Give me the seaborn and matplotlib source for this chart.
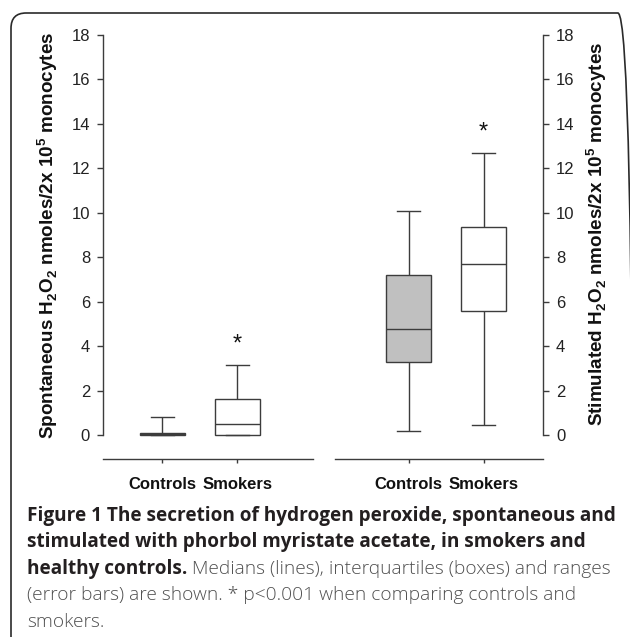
import numpy as np
import pandas as pd
import matplotlib
matplotlib.use("Agg")
import matplotlib.pyplot as plt
import seaborn as sns
from matplotlib.patches import FancyBboxPatch

# ---------------- data (five-number summaries) -------------
groups = ["Controls", "Smokers"]
# min, q1, median, q3, max
spont_controls = [0.0, 0.0, 0.05, 0.10, 0.82]
spont_smokers = [0.0, 0.0, 0.48, 1.60, 3.15]
stim_controls = [0.18, 3.29, 4.76, 7.19, 10.10]
stim_smokers = [0.44, 5.57, 7.70, 9.38, 12.68]
star_spont = 4.28
star_stim = 13.8
yticks = [0, 2, 4, 6, 8, 10, 12, 14, 16, 18]

ylabel_left = r"Spontaneous H$_\mathbf{2}$O$_\mathbf{2}$ nmoles/2x 10$^\mathbf{5}$ monocytes"
ylabel_right = r"Stimulated H$_\mathbf{2}$O$_\mathbf{2}$ nmoles/2x 10$^\mathbf{5}$ monocytes"
caption_bold = ["Figure 1 The secretion of hydrogen peroxide, spontaneous and",
                "stimulated with phorbol myristate acetate, in smokers and",
                "healthy controls."]
caption_regular = [" Medians (lines), interquartiles (boxes) and ranges",
                   "(error bars) are shown. * p<0.001 when comparing controls and",
                   "smokers."]

plt.rcParams['font.family'] = ['Liberation Sans', 'DejaVu Sans']
plt.rcParams['mathtext.fontset'] = 'custom'
plt.rcParams['mathtext.rm'] = 'Liberation Sans'
plt.rcParams['mathtext.bf'] = 'Liberation Sans:bold'

W, H = 630, 637
fig = plt.figure(figsize=(W / 100, H / 100), dpi=100)
fig.patch.set_facecolor("white")

def px(x, y):
    return x / W, 1 - y / H

LC = "#3c3c3c"
palette = {"Controls": "#c0c0c0", "Smokers": "white"}

def panel(left, right, ctrl, smk, star, xlim, side):
    x0, _ = px(left, 0)
    ax = fig.add_axes([x0, (H - 435) / H, (right - left) / W, 400 / H])
    df = pd.DataFrame({"group": ["Controls"] * len(ctrl) + ["Smokers"] * len(smk),
                       "value": ctrl + smk})
    sns.boxplot(data=df, x="group", y="value", hue="group", order=groups,
                hue_order=groups, palette=palette, legend=False, whis=(0, 100),
                width=0.6, linecolor=LC, linewidth=1.0, saturation=1,
                fliersize=0, ax=ax)
    for art in list(ax.lines) + list(ax.patches):
        art.set_clip_on(False)
    ax.set_ylim(0, 18)
    ax.set_xlim(*xlim)
    ax.set_yticks(yticks)
    ax.set_xticks([0, 1])
    ax.set_xticklabels(groups)
    ax.set_xlabel("")
    ax.set_ylabel("")
    ax.set_facecolor("none")
    for s in ax.spines.values():
        s.set_color(LC)
        s.set_linewidth(1.0)
    ax.spines["top"].set_visible(False)
    ax.spines["bottom"].set_position(("outward", 24 * 0.72))
    if side == "left":
        ax.spines["right"].set_visible(False)
    else:
        ax.spines["left"].set_visible(False)
        ax.yaxis.tick_right()
    ax.tick_params(axis="y", length=4.3, width=1.0, color=LC, pad=5,
                   labelsize=12, labelcolor="#222222")
    ax.tick_params(axis="x", length=3, width=1.0, color=LC, pad=10,
                   labelsize=12, labelcolor="#111111")
    for lab in ax.get_xticklabels():
        lab.set_fontweight("bold")
    ax.annotate("*", xy=(1, star), xytext=(0, -3.3), textcoords="offset points",
                ha="center", va="center", fontsize=17, color="#111111",
                annotation_clip=False)
    return ax

ax1 = panel(103, 313, spont_controls, spont_smokers, star_spont, (-0.79, 2.01), "left")
ax2 = panel(335, 543, stim_controls, stim_smokers, star_stim, (-0.98, 1.79), "right")

fig.text(*px(48, 235), ylabel_left, rotation=90, ha="center", va="center",
         fontsize=13.6, fontweight="bold", color="#111111")
fig.text(*px(597, 234), ylabel_right, rotation=90, ha="center", va="center",
         fontsize=13.6, fontweight="bold", color="#111111")

# caption
baselines = [521, 547.5, 574, 600.5, 627]
bold_kw = dict(family=["Open Sans", "DejaVu Sans"], fontweight="bold",
               fontsize=13.7, color="#231f20", va="baseline", ha="left")
reg_kw = dict(family=["Open Sans", "DejaVu Sans"], fontweight="light",
              fontsize=13.8, color="#505050", va="baseline", ha="left")
fig.text(*px(27, baselines[0]), caption_bold[0], **bold_kw)
fig.text(*px(27, baselines[1]), caption_bold[1], **bold_kw)
t3 = fig.text(*px(27, baselines[2]), caption_bold[2], **bold_kw)
renderer = fig.canvas.get_renderer()
bb = t3.get_window_extent(renderer)
fig.text(bb.x1 / W, 1 - baselines[2] / H, caption_regular[0], **reg_kw)
fig.text(*px(27, baselines[3]), caption_regular[1], **reg_kw)
fig.text(*px(27, baselines[4]), caption_regular[2], **reg_kw)

# rounded frame
frame = FancyBboxPatch(px(11, 700), (633 - 11) / W, (700 - 13) / H,
                       boxstyle="round,pad=0,rounding_size=0.024",
                       transform=fig.transFigure, facecolor="none",
                       edgecolor="#2a2a2a", linewidth=1.2, clip_on=False)
fig.patches.append(frame)

fig.savefig("out.png", dpi=100)
